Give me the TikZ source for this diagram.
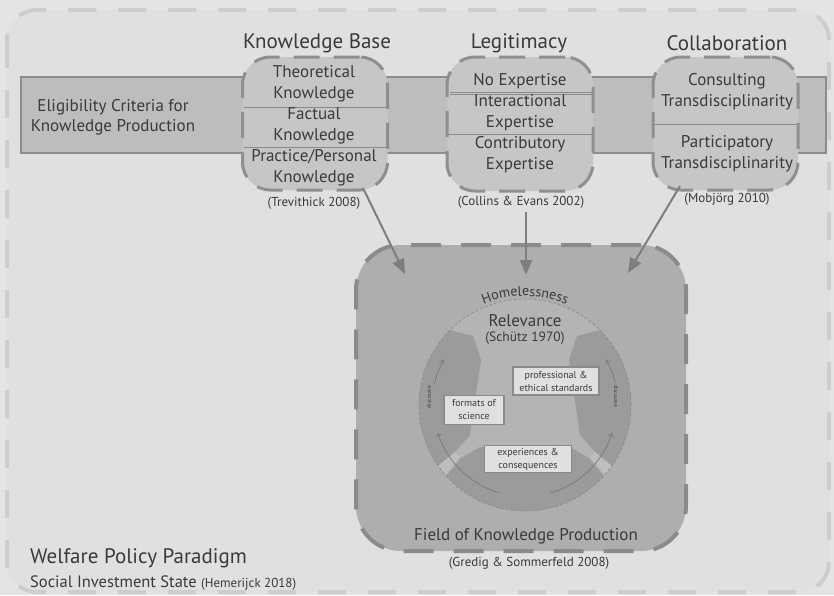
\documentclass[tikz,border=0pt]{standalone}
\usepackage{fontspec}
\setmainfont{PT Sans}
\usetikzlibrary{arrows.meta,decorations.text}

\definecolor{pagebg}{HTML}{E4E4E6}
\definecolor{framefill}{HTML}{E0E0E2}
\definecolor{framec}{HTML}{CDCDCF}
\definecolor{bandfill}{HTML}{BDBDBF}
\definecolor{bandline}{HTML}{8C8C8E}
\definecolor{boxfill}{HTML}{C6C6C8}
\definecolor{boxline}{HTML}{8F8F91}
\definecolor{fieldfill}{HTML}{AEAEB0}
\definecolor{fieldline}{HTML}{8B8B8D}
\definecolor{sepc}{HTML}{8A8A8C}
\definecolor{ink}{HTML}{3A3A3C}
\definecolor{arrowc}{HTML}{7E7E80}
\definecolor{diskc}{HTML}{B4B4B6}
\definecolor{segc}{HTML}{9B9B9D}
\definecolor{gapc}{HTML}{BEBEC0}
\definecolor{smallfill}{HTML}{E0E0E2}
\definecolor{discc}{HTML}{78787A}

\newcommand{\homefont}{\fontsize{14}{14}\selectfont}

\begin{document}
\begin{tikzpicture}[x=1pt,y=-1pt,
  frame/.style={draw=framec, fill=framefill, line width=4pt,
    dash pattern=on 28pt off 22pt, rounded corners=30pt},
  band/.style={draw=bandline, fill=bandfill, line width=1.2pt, inner sep=0pt},
  catbox/.style={draw=boxline, fill=boxfill, line width=3pt,
    dash pattern=on 26pt off 14pt, rounded corners=28pt, inner sep=0pt},
  field/.style={draw=fieldline, fill=fieldfill, line width=4pt,
    dash pattern=on 30pt off 20pt, rounded corners=45pt, inner sep=0pt},
  sep/.style={draw=sepc, line width=0.8pt},
  body/.style={text=ink, font=\fontsize{17}{21}\selectfont, align=center, inner sep=0pt},
  title/.style={text=ink, font=\fontsize{21}{24}\selectfont, inner sep=0pt},
  cite/.style={text=ink, font=\fontsize{13}{15}\selectfont, inner sep=0pt},
  smallbox/.style={draw=sepc, fill=smallfill, line width=1.2pt, text=ink,
    font=\fontsize{10}{13}\selectfont, align=center, inner sep=0pt},
  bigarrow/.style={draw=arrowc, line width=2pt, -{Triangle[length=15pt,width=12pt]}},
  disc/.style={draw=discc, line width=0.7pt, -{Straight Barb[length=3pt,width=5pt]}},
  disctext/.style={text=ink, font=\fontsize{5.5}{6}\selectfont, inner sep=0pt}
]
\useasboundingbox (0,0) rectangle (834,595);
\fill[pagebg] (0,0) rectangle (834,595);

% outer frame: welfare policy paradigm
\draw[frame] (7,10) rectangle (829,592);

% eligibility band
\node[band, minimum width=805pt, minimum height=76pt] (band) at (423.5,115) {};
\node[body, font=\fontsize{17}{20}\selectfont] (elig) at (113,117) {Eligibility Criteria for\\Knowledge Production};

% three criteria boxes
\node[catbox, minimum width=145pt, minimum height=133pt] (kb) at (315,123.5) {};
\node[catbox, minimum width=146pt, minimum height=134pt] (lg) at (520,124) {};
\node[catbox, minimum width=145pt, minimum height=133pt] (co) at (725.5,123.5) {};

% separators
\draw[sep] (244,107) -- (386,107);
\draw[sep] (244,147) -- (387,147);
\draw[sep] (450,92) -- (593,92);
\draw[sep] (450,94.5) -- (593,94.5);
\draw[sep] (448,134) -- (592,134);
\draw[sep] (654,124) -- (797,124);

% titles
\node[title] (tkb) at (317,43) {Knowledge Base};
\node[title] (tlg) at (519,43) {Legitimacy};
\node[title] (tco) at (727,43) {Collaboration};

% box contents
\node[body] (kb1) at (314,83.5) {Theoretical\\Knowledge};
\node[body] (kb2) at (314,126) {Factual\\Knowledge};
\node[body] (kb3) at (314,167.5) {Practice/Personal\\Knowledge};
\node[body] (lg1) at (520,81) {No Expertise};
\node[body] (lg2) at (520,112.5) {Interactional\\Expertise};
\node[body] (lg3) at (520,154.5) {Contributory\\Expertise};
\node[body] (co1) at (727,92) {Consulting\\Transdisciplinarity};
\node[body] (co2) at (727,154) {Participatory\\Transdisciplinarity};

% citations
\node[cite] (ckb) at (314,203) {(Trevithick 2008)};
\node[cite] (clg) at (521,202) {(Collins \& Evans 2002)};
\node[cite] (cco) at (727,199) {(Mobjörg 2010)};

% field of knowledge production
\node[field, minimum width=330pt, minimum height=306pt] (fkp) at (521,398) {};
\node[body] (fkpt) at (526,536) {Field of Knowledge Production};
\node[cite] (fkpc) at (529,563) {(Gredig \& Sommerfeld 2008)};

% relevance circle
\begin{scope}[shift={(525,405)}, y=1pt]
  \fill[diskc] (0,0) circle[radius=106];
  \fill[segc] (135:106) arc[start angle=135,end angle=215,radius=106]
    -- (-70,-47) -- (-55,-30) -- (-44,45) -- (-52,69) -- cycle;
  \fill[segc] (45:106) arc[start angle=45,end angle=-35,radius=106]
    -- (70,-47) -- (55,-30) -- (44,45) -- (52,69) -- cycle;
  \fill[segc] (222:106) -- (-64,-53) -- (-45,-42) -- (45,-42) -- (64,-53)
    -- (318:106) arc[start angle=318,end angle=222,radius=106] -- cycle;
  \fill[gapc] (215:106) -- (-70,-47) -- (-65,-52) -- (221:106)
    arc[start angle=221,end angle=215,radius=106] -- cycle;
  \fill[gapc] (-35:106) -- (70,-47) -- (65,-52) -- (319:106)
    arc[start angle=319,end angle=325,radius=106] -- cycle;
  \draw[sepc, line width=0.7pt, dash pattern=on 3pt off 2pt] (0,0) circle[radius=106];

  \path[decorate, decoration={text along path, text={|\homefont|Homelessness},
    text align=center, text color=ink}]
    (125:109) arc[start angle=125,end angle=55,radius=109];

  \node[text=ink, font=\fontsize{17}{20}\selectfont, inner sep=0pt] (rel) at (0,84) {Relevance};
  \node[text=ink, font=\fontsize{13.5}{16}\selectfont, inner sep=0pt] (relc) at (0,67) {(Schütz 1970)};

  \draw[disc] (167:93) arc[start angle=167,end angle=151,radius=93];
  \draw[disc] (254:91.5) arc[start angle=254,end angle=198,radius=91.5];
  \draw[disc] (14:93) arc[start angle=14,end angle=29,radius=93];
  \draw[disc] (286:91.5) arc[start angle=286,end angle=342,radius=91.5];
  \node[disctext, rotate=90] (dl) at (-96,8) {discourse};
  \node[disctext, rotate=-90] (dr) at (91,9) {discourse};

  \node[smallbox, minimum width=86pt, minimum height=28pt] (pes) at (31,24) {professional \&\\ethical standards};
  \node[smallbox, minimum width=60pt, minimum height=29pt] (fos) at (-51,-5) {formats of\\science};
  \node[smallbox, minimum width=87pt, minimum height=27pt] (exc) at (3,-54) {experiences \&\\consequences};
\end{scope}

% influence arrows
\coordinate (a1s) at (363,188);
\coordinate (a1e) at (405,274);
\coordinate (a2s) at (526,212);
\coordinate (a2e) at (526,275);
\coordinate (a3s) at (680,186);
\coordinate (a3e) at (628,273);
\draw[bigarrow] (a1s) -- (a1e);
\draw[bigarrow] (a2s) -- (a2e);
\draw[bigarrow] (a3s) -- (a3e);

% paradigm label
\node[text=ink, font=\fontsize{21}{24}\selectfont, inner sep=0pt, anchor=west] (wpp) at (30,558) {Welfare Policy Paradigm};
\node[text=ink, font=\fontsize{16.5}{20}\selectfont, inner sep=0pt, anchor=west] (sis) at (30,583) {Social Investment State {\fontsize{13}{15}\selectfont(Hemerijck 2018)}};
\end{tikzpicture}
\end{document}
